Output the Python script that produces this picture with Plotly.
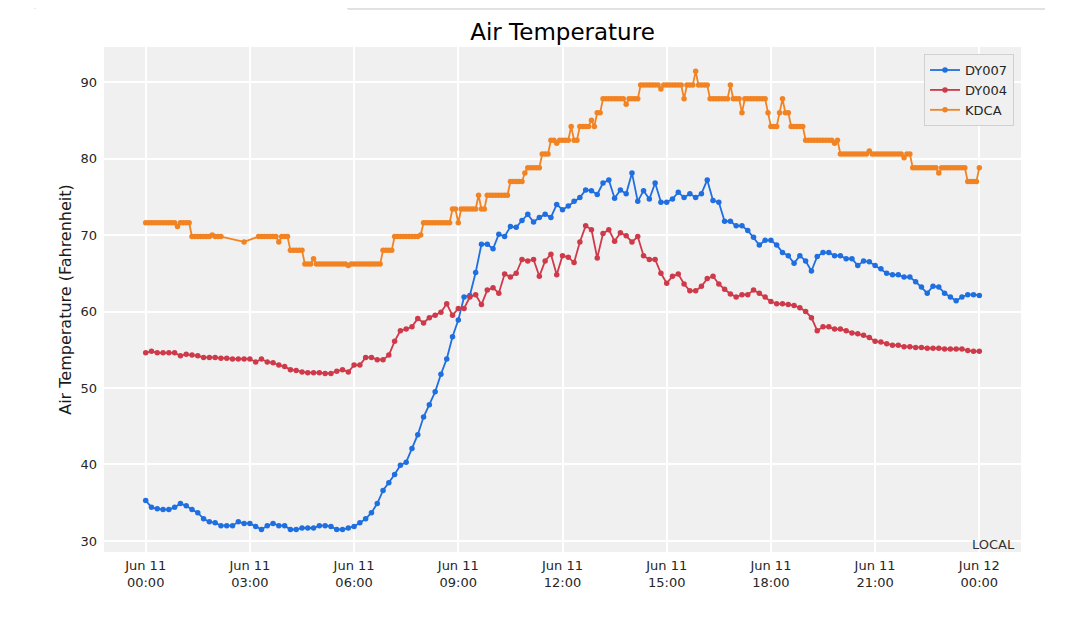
import pandas as pd
import plotly.graph_objects as go

# DY007 / DY004: one reading every 10 minutes, Jun 11 00:00 -> Jun 12 00:00
dy007 = [
    35.3, 34.4, 34.2, 34.1, 34.1, 34.4, 34.9, 34.6, 34.1, 33.7, 32.9, 32.5,
    32.4, 32.0, 32.0, 32.0, 32.5, 32.3, 32.3, 31.9, 31.5, 32.0, 32.3, 32.0,
    32.0, 31.5, 31.5, 31.7, 31.7, 31.7, 32.0, 32.0, 31.9, 31.5, 31.5, 31.7,
    31.9, 32.4, 32.9, 33.7, 34.9, 36.6, 37.6, 38.7, 39.9, 40.3, 42.1, 43.9,
    46.2, 47.8, 49.5, 51.8, 53.8, 56.7, 58.9, 61.9, 62.1, 65.1, 68.8, 68.8,
    68.2, 70.1, 69.8, 71.1, 71.0, 71.9, 72.7, 71.7, 72.3, 72.7, 72.3, 74.0,
    73.3, 73.8, 74.4, 74.9, 75.9, 75.8, 75.3, 76.8, 77.2, 74.8, 75.9, 75.4,
    78.1, 74.4, 75.8, 74.7, 76.8, 74.3, 74.3, 74.7, 75.6, 74.9, 75.4, 74.9,
    75.4, 77.2, 74.5, 74.3, 71.8, 71.8, 71.2, 71.2, 70.6, 69.7, 68.7, 69.3,
    69.3, 68.7, 67.7, 67.3, 66.3, 67.3, 66.6, 65.3, 67.2, 67.7, 67.7, 67.3,
    67.3, 66.9, 66.9, 66.0, 66.6, 66.5, 66.0, 65.6, 65.0, 64.8, 64.8, 64.5,
    64.5, 63.9, 63.2, 62.4, 63.3, 63.2, 62.4, 61.9, 61.4, 61.9, 62.2, 62.2,
    62.1,
]
dy004 = [
    54.6, 54.8, 54.6, 54.6, 54.6, 54.6, 54.2, 54.4, 54.3, 54.2, 54.0, 54.0,
    54.0, 53.9, 53.9, 53.8, 53.8, 53.8, 53.8, 53.4, 53.8, 53.4, 53.3, 53.0,
    52.8, 52.4, 52.3, 52.1, 52.0, 52.0, 52.0, 51.9, 51.9, 52.2, 52.4, 52.1,
    53.0, 53.0, 54.0, 54.0, 53.7, 53.7, 54.3, 56.1, 57.5, 57.7, 58.0, 59.1,
    58.5, 59.2, 59.5, 59.9, 61.0, 59.5, 60.4, 60.4, 61.9, 62.2, 60.9, 62.8,
    63.1, 62.4, 64.9, 64.5, 65.0, 66.8, 66.6, 66.8, 64.6, 66.6, 67.5, 64.8,
    67.3, 67.1, 66.4, 69.1, 71.2, 70.7, 67.0, 70.2, 70.7, 69.2, 70.3, 69.9,
    69.1, 69.8, 67.3, 66.8, 66.8, 65.0, 63.7, 64.6, 64.9, 63.6, 62.7, 62.7,
    63.3, 64.3, 64.6, 63.6, 62.9, 62.3, 61.9, 62.2, 62.2, 62.8, 62.4, 61.9,
    61.3, 61.0, 61.0, 60.9, 60.8, 60.5, 60.0, 59.2, 57.5, 58.0, 58.0, 57.7,
    57.7, 57.5, 57.2, 57.1, 56.9, 56.6, 56.1, 56.0, 55.8, 55.6, 55.6, 55.4,
    55.4, 55.3, 55.3, 55.2, 55.2, 55.2, 55.1, 55.1, 55.1, 55.1, 54.9, 54.8,
    54.8,
]
# KDCA: every 5 minutes (one row per hour), None = no report
kdca = [
    71.6, 71.6, 71.6, 71.6, 71.6, 71.6, 71.6, 71.6, 71.6, 71.6, 71.6, 71.1,
    71.6, 71.6, 71.6, 71.6, 69.8, 69.8, 69.8, 69.8, 69.8, 69.8, 69.8, 70.0,
    69.8, 69.8, 69.8, None, None, None, None, None, None, None, 69.1, None,
    None, None, None, 69.8, 69.8, 69.8, 69.8, 69.8, 69.8, 69.8, 69.1, 69.8,
    69.8, 69.8, 68.0, 68.0, 68.0, 68.0, 68.0, 66.2, 66.2, 66.2, 66.9, 66.2,
    66.2, 66.2, 66.2, 66.2, 66.2, 66.2, 66.2, 66.2, 66.2, 66.2, 66.0, 66.2,
    66.2, 66.2, 66.2, 66.2, 66.2, 66.2, 66.2, 66.2, 66.2, 66.2, 68.0, 68.0,
    68.0, 68.0, 69.8, 69.8, 69.8, 69.8, 69.8, 69.8, 69.8, 69.8, 69.8, 70.0,
    71.6, 71.6, 71.6, 71.6, 71.6, 71.6, 71.6, 71.6, 71.6, 71.6, 73.4, 73.4,
    71.6, 73.4, 73.4, 73.4, 73.4, 73.4, 73.4, 75.2, 73.4, 73.4, 75.2, 75.2,
    75.2, 75.2, 75.2, 75.2, 75.2, 75.2, 77.0, 77.0, 77.0, 77.0, 77.0, 78.1,
    78.8, 78.8, 78.8, 78.8, 78.8, 80.6, 80.6, 80.6, 82.4, 82.4, 82.0, 82.4,
    82.4, 82.4, 82.4, 84.2, 82.4, 82.4, 84.2, 84.2, 84.2, 84.2, 85.0, 84.2,
    86.0, 86.0, 87.8, 87.8, 87.8, 87.8, 87.8, 87.8, 87.8, 87.8, 87.1, 87.8,
    87.8, 87.8, 87.8, 89.6, 89.6, 89.6, 89.6, 89.6, 89.6, 89.6, 89.1, 89.6,
    89.6, 89.6, 89.6, 89.6, 89.6, 89.6, 87.8, 89.6, 89.6, 89.6, 91.4, 89.6,
    89.6, 89.6, 89.6, 87.8, 87.8, 87.8, 87.8, 87.8, 87.8, 87.8, 89.6, 87.8,
    87.8, 87.8, 86.0, 87.8, 87.8, 87.8, 87.8, 87.8, 87.8, 87.8, 87.8, 86.0,
    84.2, 84.2, 84.2, 86.0, 87.8, 86.0, 86.0, 84.2, 84.2, 84.2, 84.2, 84.2,
    82.4, 82.4, 82.4, 82.4, 82.4, 82.4, 82.4, 82.4, 82.4, 82.4, 82.0, 82.4,
    80.6, 80.6, 80.6, 80.6, 80.6, 80.6, 80.6, 80.6, 80.6, 80.6, 81.0, 80.6,
    80.6, 80.6, 80.6, 80.6, 80.6, 80.6, 80.6, 80.6, 80.6, 80.6, 80.1, 80.6,
    80.6, 78.8, 78.8, 78.8, 78.8, 78.8, 78.8, 78.8, 78.8, 78.8, 78.1, 78.8,
    78.8, 78.8, 78.8, 78.8, 78.8, 78.8, 78.8, 78.8, 77.0, 77.0, 77.0, 77.0,
    78.8,
]

tick_times = ["2024-06-11 00:00", "2024-06-11 03:00", "2024-06-11 06:00",
              "2024-06-11 09:00", "2024-06-11 12:00", "2024-06-11 15:00",
              "2024-06-11 18:00", "2024-06-11 21:00", "2024-06-12 00:00"]
tick_labels = ["Jun 11<br>00:00", "Jun 11<br>03:00", "Jun 11<br>06:00",
               "Jun 11<br>09:00", "Jun 11<br>12:00", "Jun 11<br>15:00",
               "Jun 11<br>18:00", "Jun 11<br>21:00", "Jun 12<br>00:00"]

t10 = pd.date_range("2024-06-11 00:00", periods=len(dy007), freq="10min")
t5 = pd.date_range("2024-06-11 00:00", periods=len(kdca), freq="5min")

FONT = "DejaVu Sans"
W, H = 1062, 601  # page body keeps an 8px margin

fig = go.Figure()
fig.add_trace(go.Scatter(x=t10, y=dy007, name="DY007", mode="lines+markers",
                         line=dict(color="#1f6fe0", width=1.8),
                         marker=dict(size=5.5, color="#1f6fe0")))
fig.add_trace(go.Scatter(x=t10, y=dy004, name="DY004", mode="lines+markers",
                         line=dict(color="#cf3a4a", width=1.8),
                         marker=dict(size=5.5, color="#cf3a4a")))
fig.add_trace(go.Scatter(x=t5, y=kdca, name="KDCA", mode="lines+markers",
                         connectgaps=True,
                         line=dict(color="#f28322", width=1.8),
                         marker=dict(size=5.5, color="#f28322")))

fig.update_layout(
    width=W, height=H,
    margin=dict(l=96, r=49, t=39, b=57),
    paper_bgcolor="white", plot_bgcolor="#f0f0f0",
    font=dict(family=FONT, size=13, color="#262626"),
    title=dict(text="Air Temperature", x=0.5, xref="paper", xanchor="center",
               y=1 - 24 / H, yref="container", yanchor="middle",
               font=dict(size=23, color="black")),
    legend=dict(x=0.9924, xanchor="right", y=0.986, yanchor="top",
                bgcolor="#f0f0f0", bordercolor="#d0d0d0", borderwidth=1,
                font=dict(size=13, color="#262626"), tracegroupgap=0),
    showlegend=True,
    annotations=[dict(text="LOCAL", xref="paper", yref="paper", x=0.9956,
                      y=0.014, xanchor="right", yanchor="middle",
                      showarrow=False, font=dict(size=13, color="#333333"))],
    shapes=[
        dict(type="line", xref="paper", yref="paper", x0=0.2661, x1=1.0262,
             y0=1.0752, y1=1.0752, line=dict(color="#d9d9d9", width=1.5)),
        dict(type="line", xref="paper", yref="paper", x0=0.2661, x1=0.2661,
             y0=1.0752, y1=1.078, line=dict(color="#d9d9d9", width=1.5)),
        dict(type="line", xref="paper", yref="paper", x0=-0.0752, x1=-0.0752,
             y0=1.0752, y1=1.078, line=dict(color="#e3e3e3", width=1.5)),
    ],
)
fig.update_xaxes(type="date",
                 range=["2024-06-10 22:48", "2024-06-12 01:12"],
                 tickvals=tick_times, ticktext=tick_labels,
                 showgrid=True, gridcolor="white", gridwidth=2,
                 zeroline=False, showline=False, ticks="",
                 ticklabelstandoff=4)
fig.update_yaxes(range=[28.56, 94.58], tickvals=[30, 40, 50, 60, 70, 80, 90],
                 showgrid=True, gridcolor="white", gridwidth=2,
                 zeroline=False, showline=False, ticks="",
                 ticklabelstandoff=6,
                 title=dict(text="Air Temperature (Fahrenheit)",
                            font=dict(size=16, color="#1a1a1a"), standoff=4))

fig.write_html("out.html")
